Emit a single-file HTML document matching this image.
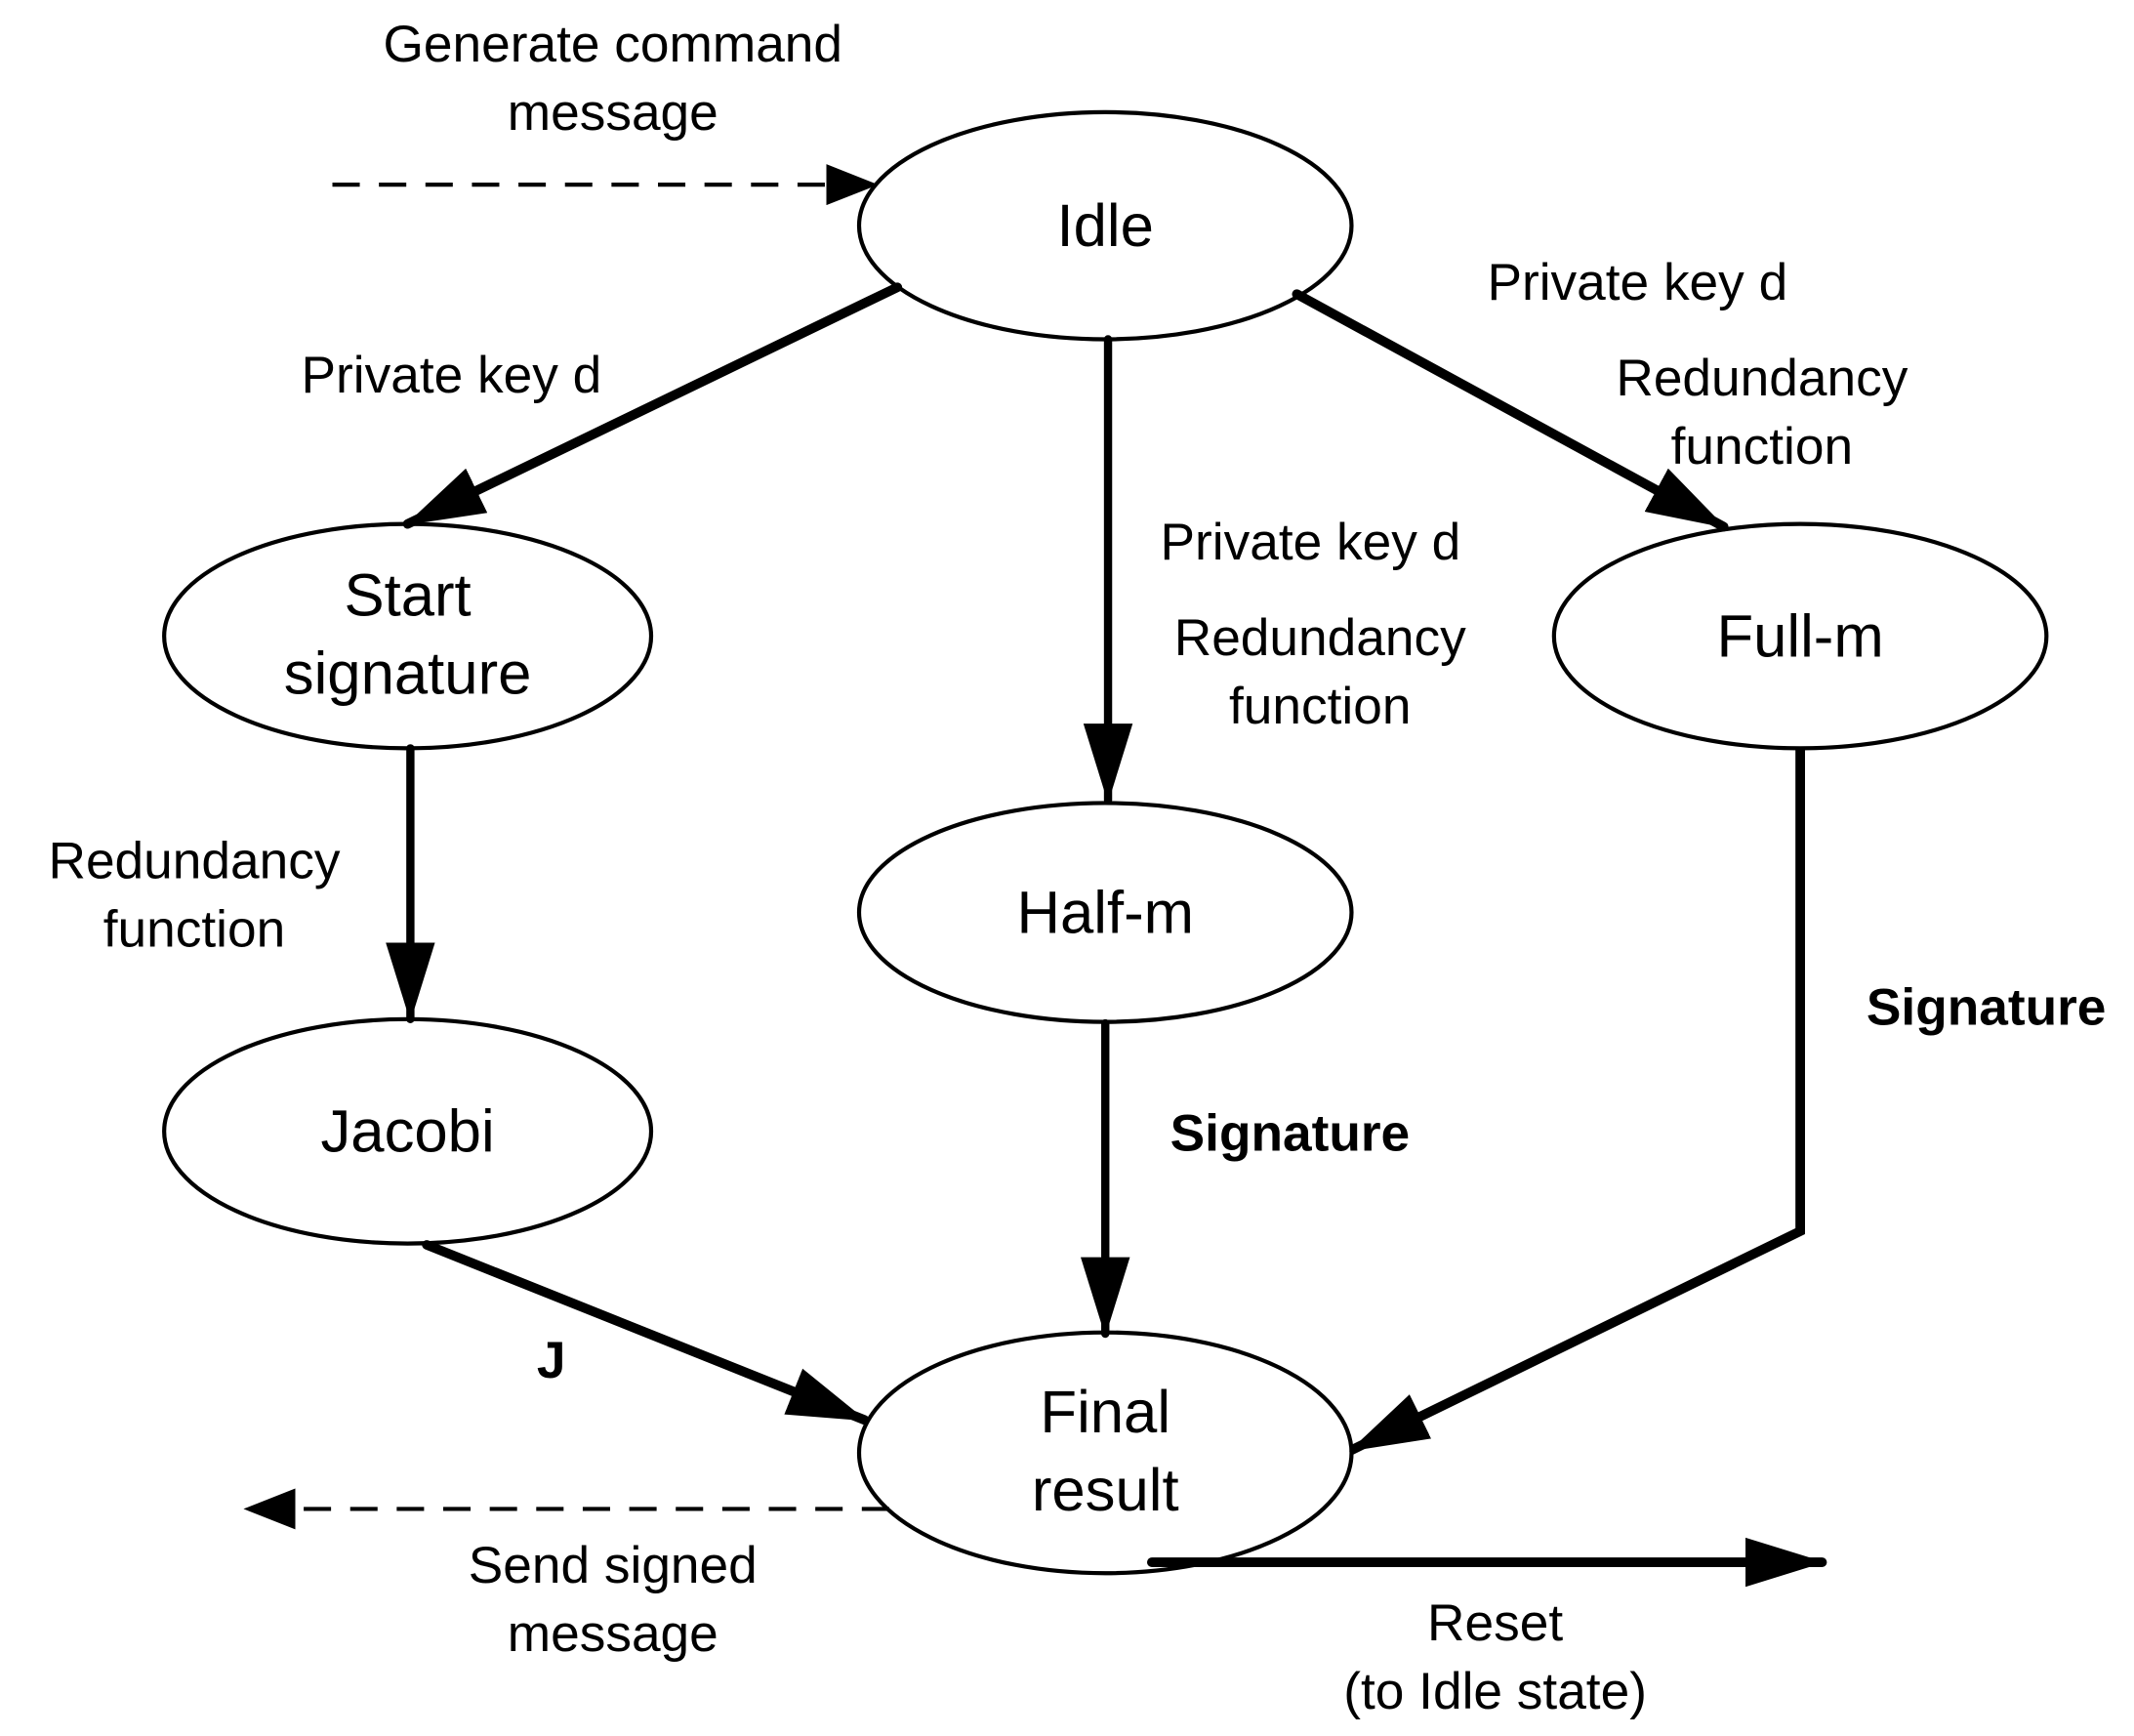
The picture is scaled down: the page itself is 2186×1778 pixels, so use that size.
<!DOCTYPE html>
<html><head><meta charset="utf-8"><style>html,body{margin:0;padding:0;background:#fff}svg{display:block}</style></head>
<body>
<svg width="2186" height="1778" viewBox="0 0 1560 1269" preserveAspectRatio="none" xmlns="http://www.w3.org/2000/svg">
<defs>
<marker id="a" markerUnits="userSpaceOnUse" markerWidth="60" markerHeight="40" refX="56" refY="20" orient="auto"><path d="M0,2 L58,20 L0,38 Z" fill="#000"/></marker>
<marker id="s" markerUnits="userSpaceOnUse" markerWidth="40" markerHeight="30" refX="36" refY="15" orient="auto"><path d="M0,0 L38,15 L0,30 Z" fill="#000"/></marker>
</defs>
<g fill="#fff" stroke="#000" stroke-width="3">
<ellipse cx="808" cy="165" rx="180" ry="83"/>
<ellipse cx="298" cy="465" rx="178" ry="82"/>
<ellipse cx="1316" cy="465" rx="180" ry="82"/>
<ellipse cx="808" cy="667" rx="180" ry="80"/>
<ellipse cx="298" cy="827" rx="178" ry="82"/>
<ellipse cx="808" cy="1062" rx="180" ry="88"/>
</g>
<g stroke="#000" fill="none" stroke-linecap="round">
<line x1="656" y1="210" x2="298" y2="383" stroke-width="7" marker-end="url(#a)"/>
<line x1="810" y1="248" x2="810" y2="585" stroke-width="6" marker-end="url(#a)"/>
<line x1="948" y1="215" x2="1260" y2="385" stroke-width="7" marker-end="url(#a)"/>
<line x1="300" y1="547" x2="300" y2="745" stroke-width="6" marker-end="url(#a)"/>
<line x1="808" y1="748" x2="808" y2="975" stroke-width="6" marker-end="url(#a)"/>
<line x1="312" y1="910" x2="632" y2="1038" stroke-width="7" marker-end="url(#a)"/>
<polyline points="1316,547 1316,900 988,1060" stroke-width="7" stroke-linecap="butt" marker-end="url(#a)"/>
<line x1="842" y1="1142" x2="1332" y2="1142" stroke-width="7" marker-end="url(#a)"/>
<line x1="243" y1="135" x2="640" y2="135" stroke-width="3" stroke-dasharray="20,14" stroke-linecap="butt" marker-end="url(#s)"/>
<line x1="650" y1="1103" x2="180" y2="1103" stroke-width="3" stroke-dasharray="20,14" stroke-linecap="butt" marker-end="url(#s)"/>
</g>
<g font-family="Liberation Sans, sans-serif" font-size="38" text-anchor="middle" fill="#000">
<text x="808" y="180" font-size="44">Idle</text>
<text x="298" y="450" font-size="44">Start</text>
<text x="298" y="507" font-size="44">signature</text>
<text x="1316" y="480" font-size="44">Full-m</text>
<text x="808" y="682" font-size="44">Half-m</text>
<text x="298" y="842" font-size="44">Jacobi</text>
<text x="808" y="1047" font-size="44">Final</text>
<text x="808" y="1104" font-size="44">result</text>
<text x="448" y="45">Generate command</text>
<text x="448" y="95">message</text>
<text x="330" y="287">Private key d</text>
<text x="1197" y="219">Private key d</text>
<text x="1288" y="289">Redundancy</text>
<text x="1288" y="339">function</text>
<text x="958" y="409">Private key d</text>
<text x="965" y="479">Redundancy</text>
<text x="965" y="529">function</text>
<text x="142" y="642">Redundancy</text>
<text x="142" y="692">function</text>
<text x="943" y="841" font-weight="bold">Signature</text>
<text x="1452" y="749" font-weight="bold">Signature</text>
<text x="403" y="1007" font-weight="bold">J</text>
<text x="448" y="1157">Send signed</text>
<text x="448" y="1207">message</text>
<text x="1093" y="1199">Reset</text>
<text x="1093" y="1249">(to Idle state)</text>
</g>
</svg>
</body></html>
